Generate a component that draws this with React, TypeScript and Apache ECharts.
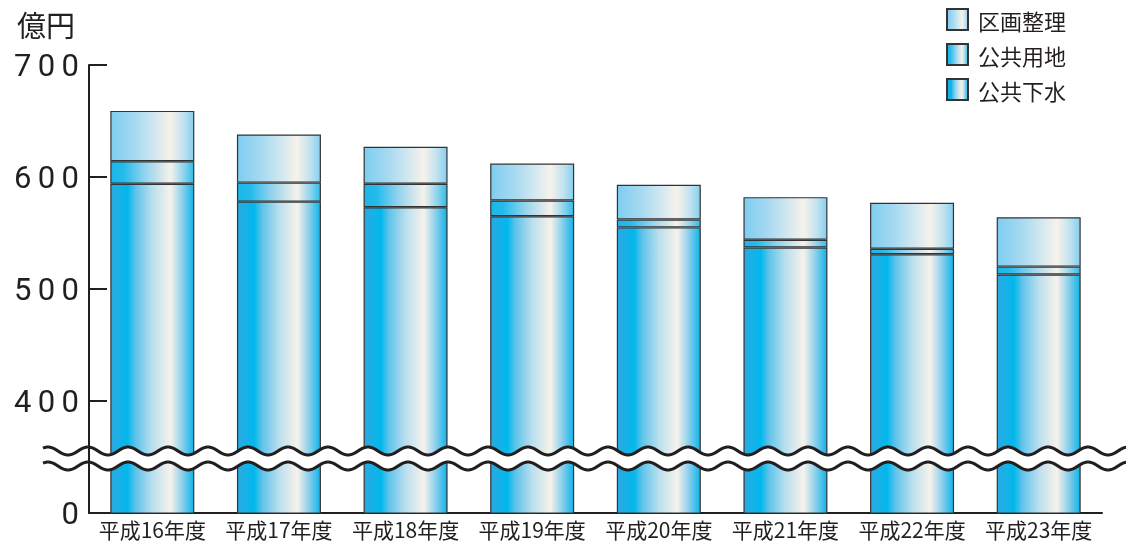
import React, { useEffect, useRef } from "react";
import * as echarts from "echarts";

const categories = ["平成16年度", "平成17年度", "平成18年度", "平成19年度", "平成20年度", "平成21年度", "平成22年度", "平成23年度"];
const gesui = [594, 578, 573, 565, 555, 537, 531, 513];
const yochi = [20, 17, 21, 14, 7, 7, 5, 7];
const kukaku = [45, 43, 33, 33, 31, 38, 41, 44];
const yTicks = [300, 400, 500, 600, 700];
const yTickLabels = ["0", "400", "500", "600", "700"];

const INK = "#231f20";

function grad(stops: [number, string][]) {
  return new echarts.graphic.LinearGradient(0, 0, 1, 0, stops.map(([offset, color]) => ({ offset, color })));
}

const gesuiGrad = () =>
  grad([
    [0, "#2aa9e0"],
    [0.12, "#14b2e8"],
    [0.2, "#00b8ec"],
    [0.3, "#5fc3ea"],
    [0.5, "#b9dfee"],
    [0.72, "#f7f2eb"],
    [0.86, "#8dd0ec"],
    [1, "#10b4e8"],
  ]);
const yochiGrad = () =>
  grad([
    [0, "#1cb6ea"],
    [0.15, "#22bbec"],
    [0.4, "#8fd2ee"],
    [0.72, "#f6f1ea"],
    [0.88, "#8fd3ee"],
    [1, "#2ebde9"],
  ]);
const kukakuGrad = () =>
  grad([
    [0, "#7ecdf1"],
    [0.3, "#a8daf0"],
    [0.55, "#d6e9f0"],
    [0.72, "#f7f2ea"],
    [0.88, "#c0e2ef"],
    [1, "#86cff0"],
  ]);

const spaced = (s: string) => s.split("").join("\u2009");

export default function App() {
  const ref = useRef<HTMLDivElement>(null);
  useEffect(() => {
    if (!ref.current) return;
    const chart = echarts.init(ref.current, undefined, { renderer: "svg" });

    const gridLeft = 89;
    const gridTop = 65;
    const gridRight = 1102;
    const gridBottom = 513;

    // break wave decoration
    const waveStart = 43;
    const waveEnd = 1128;
    const topC = 451;
    const gap = 15;
    const amp = 4;
    const period = 40;
    const topPts: number[][] = [];
    const botPts: number[][] = [];
    for (let x = waveStart; x <= waveEnd; x += 2) {
      const dy = -amp * Math.cos((2 * Math.PI * (x - 88)) / period);
      topPts.push([x, topC + dy]);
      botPts.push([x, topC + gap + dy]);
    }
    const bandPts = [...topPts, ...botPts.slice().reverse()];

    const barStyle = { borderColor: "#333333", borderWidth: 1.2 };

    chart.setOption({
      animation: false,
      textStyle: { fontFamily: "'Noto Sans CJK JP', 'Noto Sans', sans-serif" },
      grid: {
        left: gridLeft,
        top: gridTop,
        width: gridRight - gridLeft,
        height: gridBottom - gridTop,
        containLabel: false,
      },
      legend: {
        orient: "vertical",
        left: 946,
        top: 8,
        padding: 0,
        itemWidth: 21,
        itemHeight: 21,
        itemGap: 12,
        icon: "rect",
        data: ["区画整理", "公共用地", "公共下水"],
        textStyle: { fontSize: 22, lineHeight: 21, color: INK, padding: [0, 0, 0, 5] },
      },
      xAxis: {
        type: "category",
        data: categories,
        boundaryGap: true,
        axisLine: { lineStyle: { color: INK, width: 2 } },
        axisTick: { inside: true, length: 10, lineStyle: { color: INK, width: 2 } },
        axisLabel: { fontSize: 21, color: INK, margin: 5, interval: 0, hideOverlap: false },
      },
      yAxis: {
        type: "value",
        min: 300,
        max: 700,
        interval: 100,
        z: 10,
        splitLine: { show: false },
        axisLine: { show: true, lineStyle: { color: INK, width: 2 } },
        axisTick: { show: true, inside: true, length: 18, lineStyle: { color: INK, width: 2 } },
        axisLabel: {
          fontSize: 31,
          color: INK,
          margin: 10,
          fontFamily: "Roboto, 'Noto Sans', sans-serif",
          formatter: (v: number) => {
            const i = yTicks.indexOf(v);
            return i >= 0 ? spaced(yTickLabels[i]) : "";
          },
        },
      },
      series: [
        {
          name: "公共下水",
          type: "bar",
          stack: "total",
          barWidth: 84,
          data: gesui,
          itemStyle: { ...barStyle, color: gesuiGrad() },
        },
        {
          name: "公共用地",
          type: "bar",
          stack: "total",
          barWidth: 84,
          data: yochi,
          itemStyle: { ...barStyle, color: yochiGrad() },
        },
        {
          name: "区画整理",
          type: "bar",
          stack: "total",
          barWidth: 84,
          data: kukaku,
          itemStyle: { ...barStyle, color: kukakuGrad() },
        },
      ],
      graphic: [
        {
          type: "text",
          left: 17,
          top: 9,
          style: {
            text: "億円",
            fontSize: 29,
            fill: INK,
            fontFamily: "'Noto Sans CJK JP', sans-serif",
          },
        },
        {
          type: "polygon",
          z: 5,
          shape: { points: bandPts },
          style: { fill: "#ffffff", stroke: "none" },
        },
        {
          type: "polyline",
          z: 6,
          shape: { points: topPts },
          style: { stroke: INK, lineWidth: 3, fill: "none" },
        },
        {
          type: "polyline",
          z: 6,
          shape: { points: botPts },
          style: { stroke: INK, lineWidth: 3, fill: "none" },
        },
      ],
    });
    return () => chart.dispose();
  }, []);
  return <div ref={ref} style={{ position: "fixed", left: 0, top: 0, width: 1126, height: 542 }} />;
}
